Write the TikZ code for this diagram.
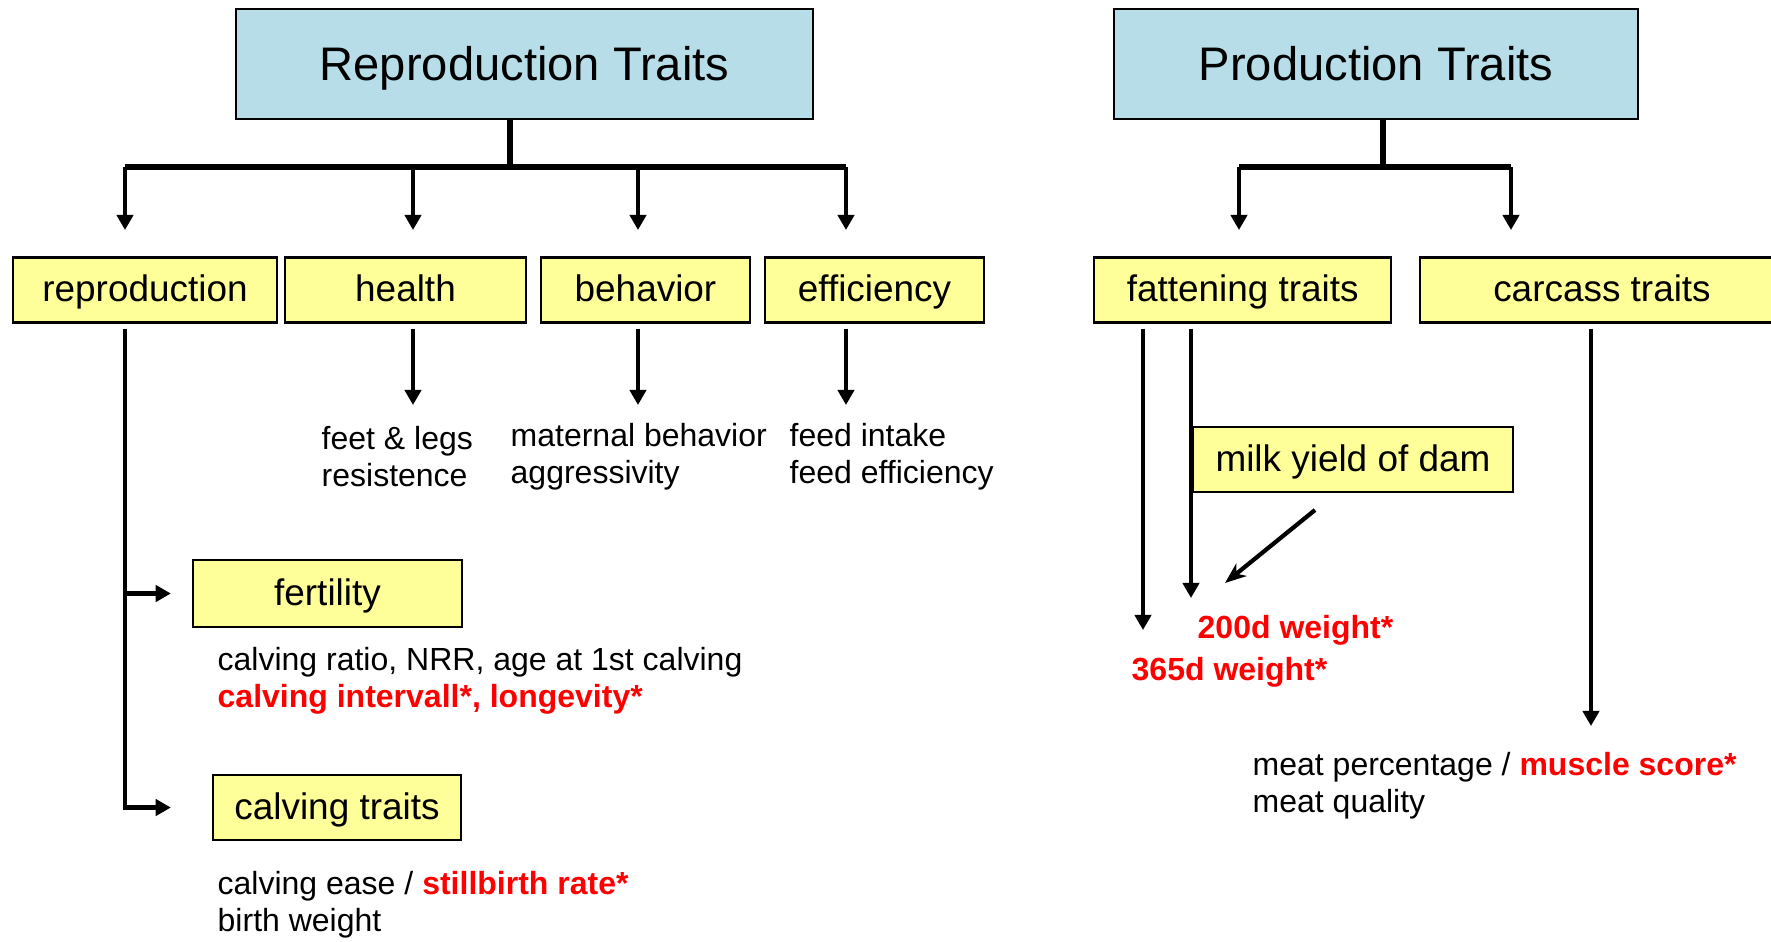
\documentclass[tikz,border=0pt]{standalone}
\usepackage{fontspec}
\setmainfont{Liberation Sans}
\usepackage{tikz}
\usetikzlibrary{arrows.meta}
\definecolor{titleblue}{RGB}{183,222,232}
\definecolor{traityellow}{RGB}{255,255,153}
\newcommand{\redbf}[1]{\textcolor{red}{\textbf{#1}}}

\begin{document}
\begin{tikzpicture}[x=0.01cm,y=-0.01cm,
  header/.style={draw,line width=.6pt,fill=titleblue,minimum height=1.1cm,inner sep=0pt,text height=9.1pt,text depth=0pt,font=\fontsize{13.4}{16}\selectfont},
  trait/.style={draw,line width=.6pt,fill=traityellow,minimum height=.65cm,inner sep=0pt,text height=6.8pt,text depth=0pt,font=\fontsize{10.5}{12.6}\selectfont},
  info/.style={anchor=west,align=left,inner sep=0pt,font=\fontsize{9.1}{10.64}\selectfont},
  bar/.style={line width=1.5pt},
  link/.style={-{Triangle[length=4.3pt,width=4.6pt]},line width=1.2pt}]
\useasboundingbox (0,0) rectangle (1771,941);

% headers
\node[header,minimum width=5.77cm] (repro) at (524.5,64) {Reproduction Traits};
\node[header,minimum width=5.24cm] (prod) at (1376,64) {Production Traits};

% trait boxes
\node[trait,minimum width=2.64cm] (reproduction) at (145,290) {reproduction};
\node[trait,minimum width=2.41cm] (health) at (405.5,290) {health};
\node[trait,minimum width=2.09cm] (behavior) at (645.5,290) {behavior};
\node[trait,minimum width=2.19cm] (efficiency) at (874.5,290) {efficiency};
\node[trait,minimum width=2.965cm] (fattening) at (1242.75,290) {fattening traits};
\node[trait,minimum width=3.63cm] (carcass) at (1602,290) {carcass traits};
\node[trait,minimum width=2.69cm,minimum height=.67cm] (fertility) at (327.5,593.5) {fertility};
\node[trait,minimum width=2.48cm] (calving) at (337,807.5) {calving traits};
\node[trait,minimum width=3.195cm] (milk) at (1353,459.5) {milk yield of dam};

% texts
\node[info] (feet) at (321,456.5) {feet \& legs\\resistence};
\node[info] (maternal) at (510,456.5) {maternal behavior\\aggressivity};
\node[info] (feed) at (789,456.5) {feed intake\\feed efficiency};
\node[info] (fertnote) at (217,681) {calving ratio, NRR, age at 1st calving\\\redbf{calving intervall*, longevity*}};
\node[info] (calvnote) at (217,904.5) {calving ease / \redbf{stillbirth rate*}\\birth weight};
\node[info] (meatnote) at (1252,786) {meat percentage / \redbf{muscle score*}\\meat quality};
\node[info] (w200txt) at (1197,630) {\redbf{200d weight*}};
\node[info] (w365txt) at (1131,672) {\redbf{365d weight*}};

% reproduction tree
\coordinate (rjoin) at (510,167);
\foreach \n/\x in {rr/125, rh/413, rb/638, re/846}
  \coordinate (\n) at (\x,230);
\draw[bar] (repro.south -| rjoin) -- (rjoin);
\draw[bar] (rr |- rjoin) -- (re |- rjoin);
\foreach \n in {rr,rh,rb,re}
  \draw[link] (\n |- rjoin) -- (\n);

\coordinate (hend) at (413,405);
\coordinate (bend) at (638,405);
\coordinate (eend) at (846,405);
\draw[link,shorten <=.05cm] (health.south -| hend) -- (hend);
\draw[link,shorten <=.05cm] (behavior.south -| bend) -- (bend);
\draw[link,shorten <=.05cm] (efficiency.south -| eend) -- (eend);

\draw[link,shorten <=.05cm,shorten >=.21cm] (reproduction.south -| rr) |- (fertility.west);
\draw[link,shorten <=.05cm,shorten >=.41cm] (reproduction.south -| rr) |- (calving.west);

% production tree
\coordinate (pjoin) at (1383,167);
\coordinate (pf) at (1239,230);
\coordinate (pc) at (1511,230);
\draw[bar] (prod.south -| pjoin) -- (pjoin);
\draw[bar] (pf |- pjoin) -- (pc |- pjoin);
\draw[link] (pf |- pjoin) -- (pf);
\draw[link] (pc |- pjoin) -- (pc);

\coordinate (w365) at (1143,630);
\coordinate (w200) at (1191,598);
\draw[link,shorten <=.05cm] (fattening.south -| w365) -- (w365);
\draw[link,shorten <=.05cm] (fattening.south -| w200) -- (w200);

\coordinate (mstart) at (1315,510);
\coordinate (mend) at (1225,583);
\draw[-{Stealth[length=6pt,width=4.6pt,inset=1.8pt]},line width=1.2pt] (mstart) -- (mend);

\coordinate (cend) at (1591,726);
\draw[link,shorten <=.05cm] (carcass.south -| cend) -- (cend);
\end{tikzpicture}
\end{document}
